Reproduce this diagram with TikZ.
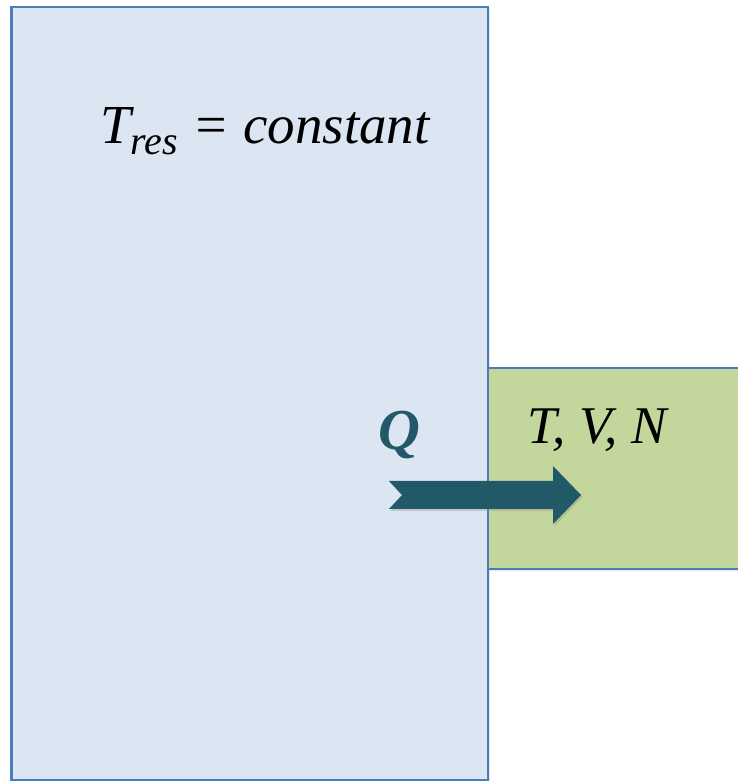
\documentclass[tikz,border=0pt]{standalone}
\usepackage{fontspec}
\setmainfont{Liberation Serif}
\usetikzlibrary{shadows}
\definecolor{resfill}{HTML}{DCE6F2}
\definecolor{resline}{HTML}{4A7EBB}
\definecolor{sysfill}{HTML}{C3D69B}
\definecolor{heatcol}{HTML}{215968}
\begin{document}
\begin{tikzpicture}[
        x=1pt, y=1pt,
        % Reservoir
        reservoir/.style={
            rectangle, draw=resline, fill=resfill, line width=2.2pt,
            drop shadow={shadow xshift=2pt, shadow yshift=-2pt, opacity=0.2}
        },
        % System
        system/.style={
            rectangle, draw=resline, fill=sysfill, line width=1.6pt,
            drop shadow={shadow xshift=2pt, shadow yshift=-2pt, opacity=0.2}
        },
        % Labels
        lbl/.style={anchor=base west, inner sep=0pt, font=\fontsize{53}{60}\selectfont\itshape},
        % Heat arrow
        heat/.style={fill=heatcol,
            drop shadow={shadow xshift=1.5pt, shadow yshift=-2pt, opacity=0.3}}
    ]
        \useasboundingbox (0,0) rectangle (738,781);

        % Reservoir and system
        \path [reservoir] (11.5,1) rectangle (488,774);
        \path [system] (488,212) rectangle (770,413);
        \coordinate (res) at (11.5,774);
        \coordinate (sys) at (488,413);

        % Labels
        \node [lbl, font=\fontsize{55}{60}\selectfont\itshape] (tres) at (100,637)
            {T\textsubscript{\fontsize{40}{40}\selectfont res} = constant};
        \node [lbl] (tvn) at (527,337) {T, V, N};
        \node [lbl, text=heatcol, font=\fontsize{58}{60}\selectfont\bfseries\itshape] (q) at (378,331) {Q};

        % Heat arrow
        \coordinate (tail) at (389,286);
        \coordinate (tip) at (581,286);
        \path [heat] (tail) ++(0,14) -- (553,300) -- (553,315) -- (tip)
            -- (553,257) -- (553,272) -- (389,272) -- (402,286) -- cycle;
\end{tikzpicture}
\end{document}
